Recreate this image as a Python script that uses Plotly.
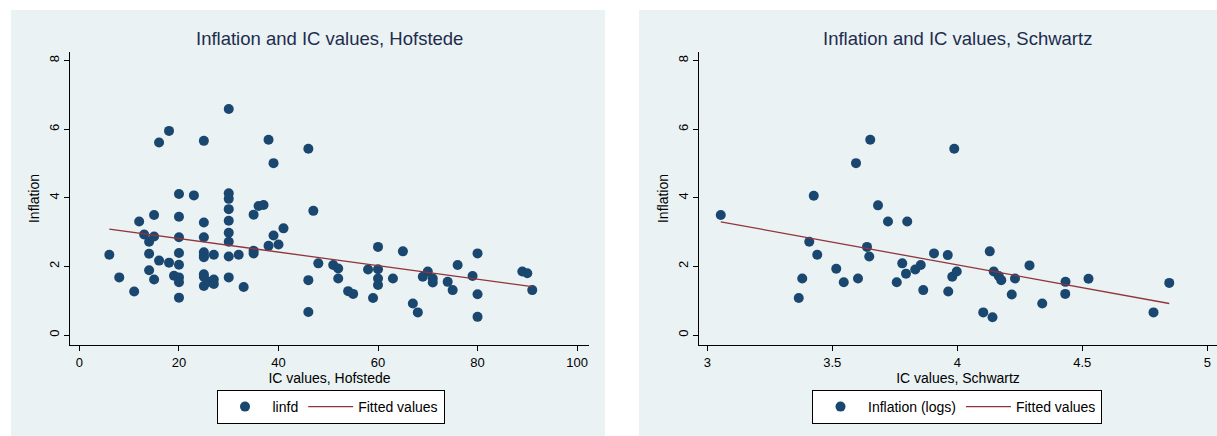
import plotly.graph_objects as go

W, H = 1217, 436

# ---------------- data: Hofstede panel ----------------
hof_ic = [6, 8, 11, 12, 13, 14, 14, 14, 15, 15, 15, 16, 16, 18, 18, 19,
          20, 20, 20, 20, 20, 20, 20, 20, 23,
          25, 25, 25, 25, 25, 25, 25, 25, 25, 26, 27, 27, 27,
          30, 30, 30, 30, 30, 30, 30, 30, 30,
          32, 33, 35, 35, 35, 36, 37, 38, 38, 39, 39, 40, 41,
          46, 46, 46, 47, 48, 51, 52, 52, 54, 55, 58, 59, 60, 60, 60, 60,
          63, 65, 67, 68, 69, 70, 71, 71, 74, 75, 76, 79, 80, 80, 80, 89, 90, 91]
hof_infl = [2.34, 1.68, 1.27, 3.31, 2.93, 2.72, 2.37, 1.89, 3.50, 2.87, 1.62, 5.61, 2.17, 5.95, 2.11, 1.73,
            4.11, 3.45, 2.85, 2.39, 2.05, 1.68, 1.54, 1.09, 4.07,
            5.66, 3.28, 2.85, 2.41, 2.32, 2.27, 1.77, 1.70, 1.43, 1.55, 2.34, 1.62, 1.49,
            6.59, 4.13, 3.97, 3.67, 3.33, 2.98, 2.72, 2.29, 1.68,
            2.34, 1.40, 3.51, 2.46, 2.38, 3.76, 3.79, 5.69, 2.60, 5.01, 2.90, 2.64, 3.11,
            5.43, 1.60, 0.67, 3.62, 2.09, 2.04, 1.94, 1.65, 1.28, 1.20, 1.91, 1.08, 2.57, 1.92, 1.65, 1.46,
            1.65, 2.44, 0.92, 0.66, 1.70, 1.85, 1.65, 1.53, 1.55, 1.31, 2.04, 1.72, 2.38, 1.19, 0.53, 1.85, 1.80, 1.31]
hof_fit_x = [6, 91]
hof_fit_y = [3.09, 1.41]

# ---------------- data: Schwartz panel ----------------
sch_ic = [3.054, 3.426, 3.408, 3.440, 3.380, 3.366, 3.516, 3.546, 3.603, 3.595,
          3.652, 3.683, 3.639, 3.648, 3.723, 3.800, 3.758, 3.780, 3.795, 3.832,
          3.854, 3.864, 3.907, 3.962, 3.964, 3.980, 3.998, 3.988,
          4.130, 4.146, 4.166, 4.176, 4.104, 4.141, 4.218, 4.231, 4.289, 4.340,
          4.433, 4.432, 4.525, 4.785, 4.848]
sch_infl = [3.50, 4.06, 2.72, 2.34, 1.65, 1.08, 1.93, 1.54, 1.65, 5.01,
            5.69, 3.78, 2.57, 2.29, 3.31, 3.31, 1.54, 2.09, 1.79, 1.91,
            2.04, 1.31, 2.38, 2.33, 1.27, 1.70, 1.85, 5.43,
            2.44, 1.85, 1.72, 1.60, 0.66, 0.52, 1.18, 1.65, 2.03, 0.92,
            1.55, 1.20, 1.64, 0.66, 1.52]
sch_fit_x = [3.054, 4.848]
sch_fit_y = [3.30, 0.92]

hof_ticks = [0, 20, 40, 60, 80, 100]
sch_ticks = [3, 3.5, 4, 4.5, 5]
sch_ticktext = ["3", "3.5", "4", "4.5", "5"]
y_ticks = [0, 2, 4, 6, 8]

# ---------------- style ----------------
FONT = "Liberation Sans, Arial, sans-serif"
BG = "#EAF2F3"
NAVY = "#1A476F"
MAROON = "#90353B"
TITLE_C = "#1E2C4E"

def px_x(p):
    return p / W

def px_y(p):
    return (H - p) / H

fig = go.Figure()

fig.add_trace(go.Scatter(x=hof_ic, y=hof_infl, mode="markers", name="linfd",
                         marker=dict(color=NAVY, size=10, line=dict(width=0)),
                         xaxis="x", yaxis="y", legend="legend"))
fig.add_trace(go.Scatter(x=hof_fit_x, y=hof_fit_y, mode="lines", name="Fitted values",
                         line=dict(color=MAROON, width=1.3),
                         xaxis="x", yaxis="y", legend="legend"))
fig.add_trace(go.Scatter(x=sch_ic, y=sch_infl, mode="markers", name="Inflation (logs)",
                         marker=dict(color=NAVY, size=10, line=dict(width=0)),
                         xaxis="x2", yaxis="y2", legend="legend2"))
fig.add_trace(go.Scatter(x=sch_fit_x, y=sch_fit_y, mode="lines", name="Fitted values",
                         line=dict(color=MAROON, width=1.3),
                         xaxis="x2", yaxis="y2", legend="legend2"))

ydom = [px_y(345), px_y(52)]
left_dom = [px_x(70), px_x(589)]
right_dom = [px_x(699), 1.0]

common_x = dict(showline=True, linecolor="black", linewidth=1, ticks="outside",
                ticklen=5, tickcolor="black", showgrid=False, zeroline=False,
                tickfont=dict(size=13, color="black", family=FONT),
                title_font=dict(size=14, color="black", family=FONT),
                title_standoff=2)
common_y = dict(showline=True, linecolor="black", linewidth=1, ticks="outside",
                ticklen=5, tickcolor="black", showgrid=True, gridcolor=BG, gridwidth=1,
                zeroline=False, tickangle=-90, range=[-0.29, 8.25], tickvals=y_ticks,
                tickfont=dict(size=13, color="black", family=FONT),
                title_font=dict(size=14, color="black", family=FONT),
                title_standoff=3, domain=ydom)

fig.update_layout(
    width=W, height=H,
    margin=dict(l=0, r=0, t=0, b=0),
    paper_bgcolor="white", plot_bgcolor="white",
    font=dict(family=FONT, color="black"),
    xaxis=dict(domain=left_dom, range=[-1.9, 102.4], tickvals=hof_ticks,
               title_text="IC values, Hofstede", anchor="y", **common_x),
    yaxis=dict(anchor="x", title_text="Inflation", **common_y),
    xaxis2=dict(domain=right_dom, range=[2.967, 5.039], tickvals=sch_ticks, ticktext=sch_ticktext,
                title_text="IC values, Schwartz", anchor="y2", **common_x),
    yaxis2=dict(anchor="x2", title_text="Inflation", **common_y),
    legend=dict(orientation="h", x=px_x(330.5), y=px_y(407), xanchor="center", yanchor="middle",
                bgcolor="white", bordercolor="black", borderwidth=1,
                font=dict(size=14, color="black", family=FONT), itemwidth=45),
    legend2=dict(orientation="h", x=px_x(957), y=px_y(407), xanchor="center", yanchor="middle",
                 bgcolor="white", bordercolor="black", borderwidth=1,
                 font=dict(size=14, color="black", family=FONT), itemwidth=45),
    shapes=[
        dict(type="rect", xref="paper", yref="paper", x0=px_x(11), x1=px_x(605),
             y0=0, y1=px_y(10), fillcolor=BG, line=dict(width=0), layer="below"),
        dict(type="rect", xref="paper", yref="paper", x0=px_x(639), x1=1.0,
             y0=0, y1=px_y(10), fillcolor=BG, line=dict(width=0), layer="below"),
    ],
    annotations=[
        dict(text="Inflation and IC values, Hofstede", xref="paper", yref="paper",
             x=px_x(329.5), y=px_y(38), xanchor="center", yanchor="middle", showarrow=False,
             font=dict(size=18.5, color=TITLE_C, family=FONT)),
        dict(text="Inflation and IC values, Schwartz", xref="paper", yref="paper",
             x=px_x(957), y=px_y(38), xanchor="center", yanchor="middle", showarrow=False,
             font=dict(size=18.5, color=TITLE_C, family=FONT)),
    ],
)

fig.write_html("out.html", config={"displayModeBar": False},
               post_script="document.body.style.margin='0';document.body.style.padding='0';")
